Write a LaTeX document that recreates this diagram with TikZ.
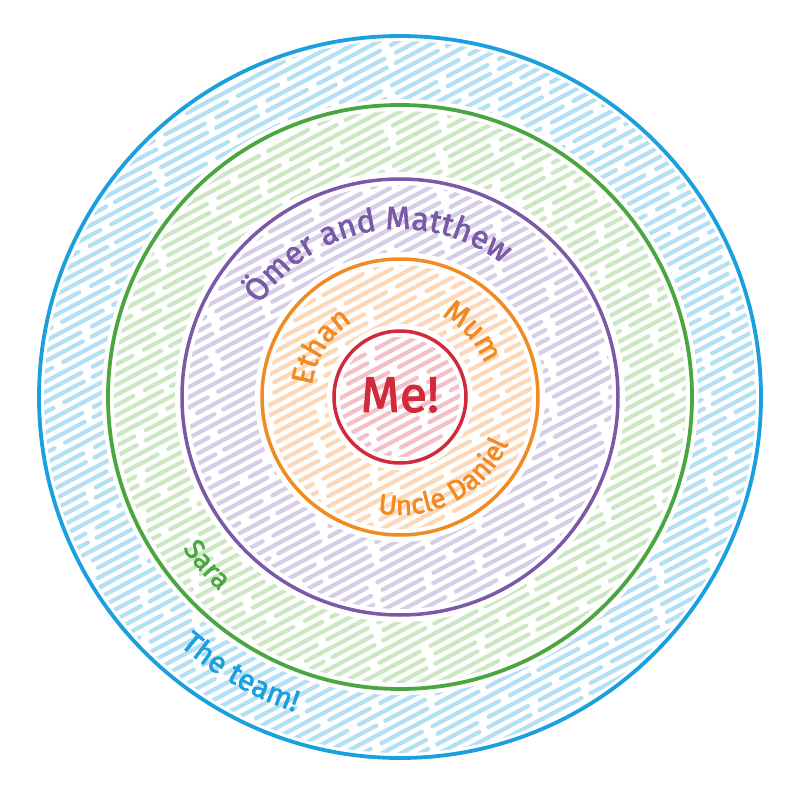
\documentclass[tikz,border=0pt]{standalone}
\usepackage{fontspec}
\setmainfont{Fira Sans}
\newfontfamily\lbl{Fira Sans}[FakeBold=2]
\usetikzlibrary{decorations.text}
\definecolor{cblue}{HTML}{1A9FDF}
\definecolor{cgreen}{HTML}{4AA63F}
\definecolor{cpurple}{HTML}{7A5AA6}
\definecolor{corange}{HTML}{F28A22}
\definecolor{cred}{HTML}{D22A3B}
\definecolor{lblue}{HTML}{B3E0F5}
\definecolor{lgreen}{HTML}{CBE8C3}
\definecolor{lpurple}{HTML}{D5CEE8}
\definecolor{lorange}{HTML}{FCD8B8}
\definecolor{lred}{HTML}{F3C0CA}
\newcommand\myhatch[2]{%
  \begin{scope}
    \clip (0,0) circle (#1pt);
    \begin{scope}[rotate=28]
      \foreach \k [evaluate=\k as \ph using {int(mod(\k*53+4600,230))}] in {-44,...,44}
        {\draw[hatchline, #2, dash phase=\ph pt] (-430pt,\k*9pt) -- (430pt,\k*9pt);}
    \end{scope}
  \end{scope}}
\newcommand\mywhite[1]{\fill[white] (0,0) circle (#1pt);}
\tikzset{
  hatchline/.style={line width=4.2pt, line cap=round,
    dash pattern=on 70pt off 12pt on 110pt off 10pt on 45pt off 13pt},
  ring/.style={line width=3.8pt},
  arclabel/.style={decorate, decoration={text along path, text align=center}}
}
\begin{document}
\begin{tikzpicture}[x=1pt,y=1pt]
\useasboundingbox (-400pt,-398pt) rectangle (400pt,397pt);
\fill[white] (-400pt,-398pt) rectangle (400pt,397pt);
% hatched bands
\myhatch{356}{lblue}
\mywhite{298}
\myhatch{286}{lgreen}
\mywhite{225}
\myhatch{212}{lpurple}
\mywhite{145}
\myhatch{132}{lorange}
\mywhite{73}
\myhatch{60}{lred}
% rings
\draw[ring, cblue] (0,0) circle (361pt);
\draw[ring, cgreen] (0,0) circle (292pt);
\draw[ring, cpurple, line width=3.5pt] (0,0) circle (218pt);
\draw[ring, corange, line width=3.5pt] (0,0) circle (138pt);
\draw[ring, cred, line width=3.5pt] (0,0) circle (66pt);
% labels
\node[text=cred, font=\lbl\fontsize{50}{50}\selectfont] (me) at (0pt,2pt) {Me!};
\path[arclabel, decoration={text={|\lbl\fontsize{32}{32}\selectfont\color{cpurple}|Ömer and Matthew}}]
  (150:168pt) arc[start angle=150, end angle=49, radius=168pt];
\path[arclabel, decoration={text={|\lbl\fontsize{30}{30}\selectfont\color{corange}|Ethan}}]
  (175:89pt) arc[start angle=175, end angle=120, radius=89pt];
\path[arclabel, decoration={text={|\lbl\fontsize{30}{30}\selectfont\color{corange}|Mum}}]
  (70:91pt) arc[start angle=70, end angle=14, radius=91pt];
\path[arclabel, decoration={text={|\lbl\fontsize{28}{28}\selectfont\color{corange}|Uncle Daniel}}]
  (-112:118pt) arc[start angle=-112, end angle=-12, radius=118pt];
\path[arclabel, decoration={text={|\lbl\fontsize{28}{28}\selectfont\color{cgreen}|Sara}}]
  (204:265pt) arc[start angle=204, end angle=238, radius=265pt];
\path[arclabel, decoration={text={|\lbl\fontsize{30}{30}\selectfont\color{cblue}|The team!}}]
  (222:332pt) arc[start angle=222, end angle=258, radius=332pt];
\end{tikzpicture}
\end{document}
